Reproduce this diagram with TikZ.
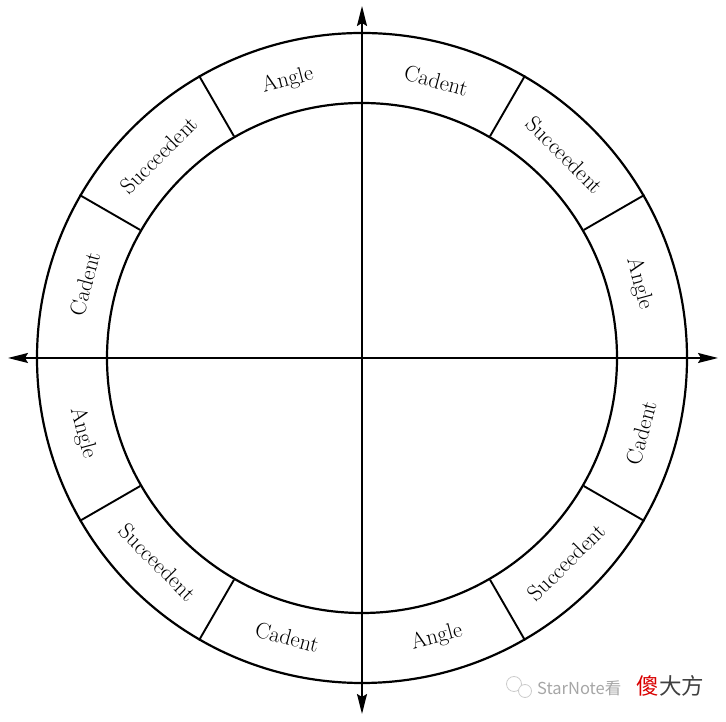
\documentclass[tikz,border=0pt]{standalone}
\usepackage{fontspec}
\newfontfamily\cjk{Noto Sans CJK SC}
\usetikzlibrary{arrows.meta}
\tikzset{
  ring/.style={line width=2.2pt},
  divider/.style={line width=1.9pt},
  axisline/.style={line width=1.7pt, {Stealth[length=20pt,width=10pt,inset=3pt]}-{Stealth[length=20pt,width=10pt,inset=3pt]}},
  lab/.style={font=\fontsize{22.5}{24}\selectfont, inner sep=0pt},
  wm/.style={font=\cjk\fontsize{16.5}{17}\selectfont, inner sep=0pt, anchor=west}
}
\begin{document}
\begin{tikzpicture}[x=1pt,y=1pt]
\useasboundingbox (0,0) rectangle (726,722);
\coordinate (O) at (362,364);
\node[circle, draw, ring, minimum size=650pt, inner sep=0pt] (outer) at (O) {};
\node[circle, draw, ring, minimum size=510pt, inner sep=0pt] (inner) at (O) {};
\foreach \a in {30,60,120,150,210,240,300,330}{
  \draw[divider] (inner.\a) -- (outer.\a);
}
\coordinate (T) at (362,716);
\coordinate (B) at (362,8);
\coordinate (L) at (8,364);
\coordinate (R) at (718,364);
\draw[axisline] (L) -- (R);
\draw[axisline] (B) -- (T);
\foreach \a/\t [count=\i] in {105/Angle,75/Cadent,45/Succeedent,15/Angle,165/Cadent,135/Succeedent}{
  \node[lab, rotate=\a-90] (top\i) at ([shift={(\a:287)}]O) {\t};
}
\foreach \a/\t [count=\i] in {-15/Cadent,-45/Succeedent,-75/Angle,-105/Cadent,-135/Succeedent,-165/Angle}{
  \node[lab, rotate=\a+90] (bot\i) at ([shift={(\a:289)}]O) {\t};
}
% watermark
\node[circle, draw=gray!40, line width=0.8pt, minimum size=15pt, inner sep=0pt] (wa) at (514,38) {};
\node[circle, draw=gray!40, line width=0.8pt, minimum size=13pt, inner sep=0pt, fill=white] (wb) at (525,31) {};
\node[wm, text=gray!70] (wm1) at (537,34) {StarNote看};
\node[wm, text=red!85!black, font=\cjk\fontsize{22.5}{23}\selectfont] (wm2) at (636,36) {傻};
\node[wm, text=black!75, font=\cjk\fontsize{22.5}{23}\selectfont] (wm3) at (wm2.east) {大方};
\end{tikzpicture}
\end{document}
